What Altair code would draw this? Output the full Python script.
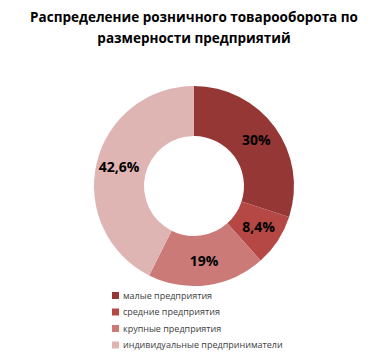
import altair as alt
import pandas as pd

categories = ["малые предприятия", "средние предприятия", "крупные предприятия", "индивидуальные предприниматели"]
values = [30, 8.4, 19, 42.6]
labels = ["30%", "8,4%", "19%", "42,6%"]
colors = ["#953735", "#B54845", "#CC7A78", "#DFB5B4"]

df = pd.DataFrame({"cat": categories, "val": values, "lab": labels, "order": [0, 1, 2, 3]})

base = alt.Chart(df).encode(
    theta=alt.Theta("val:Q", stack=True),
    order=alt.Order("order:Q"),
)

arcs = base.mark_arc(outerRadius=100, innerRadius=50).encode(
    x=alt.value(194),
    y=alt.value(136),
    color=alt.Color(
        "cat:N",
        scale=alt.Scale(domain=categories, range=colors),
        sort=categories,
        legend=alt.Legend(
            title=None,
            orient="none",
            legendX=111,
            legendY=241,
            symbolType="square",
            symbolSize=49,
            symbolStrokeWidth=0,
            labelFontSize=9,
            labelFont="Open Sans",
            labelColor="#404040",
            rowPadding=6.5,
            padding=0,
            labelOffset=3,
        ),
    ),
)

text = base.mark_text(radius=77, fontSize=14, fontWeight="bold", font="Open Sans", color="#000000").encode(
    x=alt.value(194),
    y=alt.value(136),
    text="lab:N",
)

chart = (
    alt.layer(arcs, text)
    .properties(
        width=388,
        height=304,
        padding={"left": 0, "top": 50, "right": 0, "bottom": 0},
        autosize=alt.AutoSizeParams(type="none"),
        title=alt.TitleParams(
            text=["Распределение розничного товарооборота по", "размерности предприятий"],
            anchor="middle",
            fontSize=13.5,
            font="Open Sans",
            fontWeight="bold",
            color="#000000",
            lineHeight=21,
            offset=5,
        ),
    )
    .configure_view(stroke=None)
)

chart.save("out.html", embed_options={"renderer": "svg", "actions": False})
